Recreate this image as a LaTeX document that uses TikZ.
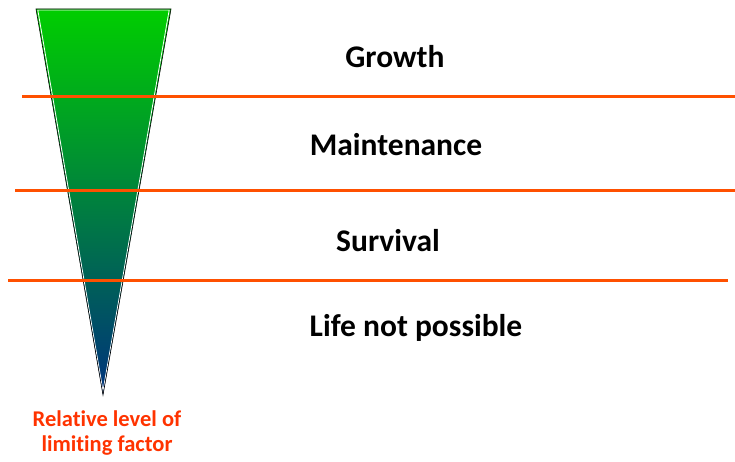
\documentclass[tikz,border=0pt]{standalone}
\usepackage{fontspec}
\setmainfont{Carlito}[Ligatures=NoCommon]
\usepackage{tikz}
\usetikzlibrary{positioning}

\definecolor{zoneline}{RGB}{255,80,0}
\definecolor{labelred}{RGB}{255,51,0}
\definecolor{topgreen}{RGB}{0,206,0}
\definecolor{midgreen}{RGB}{0,150,90}
\definecolor{lowblue}{RGB}{0,50,125}

\tikzset{
    zone/.style={font=\bfseries\fontsize{31.5}{34}\selectfont, text=black},
    sep/.style={draw=zoneline, line width=3pt}
}

\begin{document}
\begin{tikzpicture}[x=1pt, y=-1pt]
        \useasboundingbox (0, 0) rectangle (735, 462);

        %%wedge
        \shade[top color=topgreen, middle color=midgreen, bottom color=lowblue]
            (36, 9) -- (171, 9) -- (103, 395) -- cycle;
        \draw[white, line width=0.8pt] (37.8, 10) -- (169.2, 10) -- (103, 391) -- cycle;
        \draw[black, line width=0.6pt] (36, 9) -- (171, 9) -- (103, 395) -- cycle;

        %%zone borders
        \draw[sep] (22, 97) to (735, 97);
        \draw[sep] (15, 191) to (735, 191);
        \draw[sep] (8, 280) to (728, 280);

        %%zones
        \node[zone] (growth) at (395, 57){Growth};
        \node[zone] (maint) at (396, 145){Maintenance};
        \node[zone] (survival) at (388, 241){Survival};
        \node[zone] (nolife) at (416, 328){Life not possible};

        %%axis label
        \node[font=\bfseries\fontsize{22.5}{25}\selectfont, text=labelred, align=center]
            (factor) at (107, 433){Relative level of\\limiting factor};
\end{tikzpicture}
\end{document}
